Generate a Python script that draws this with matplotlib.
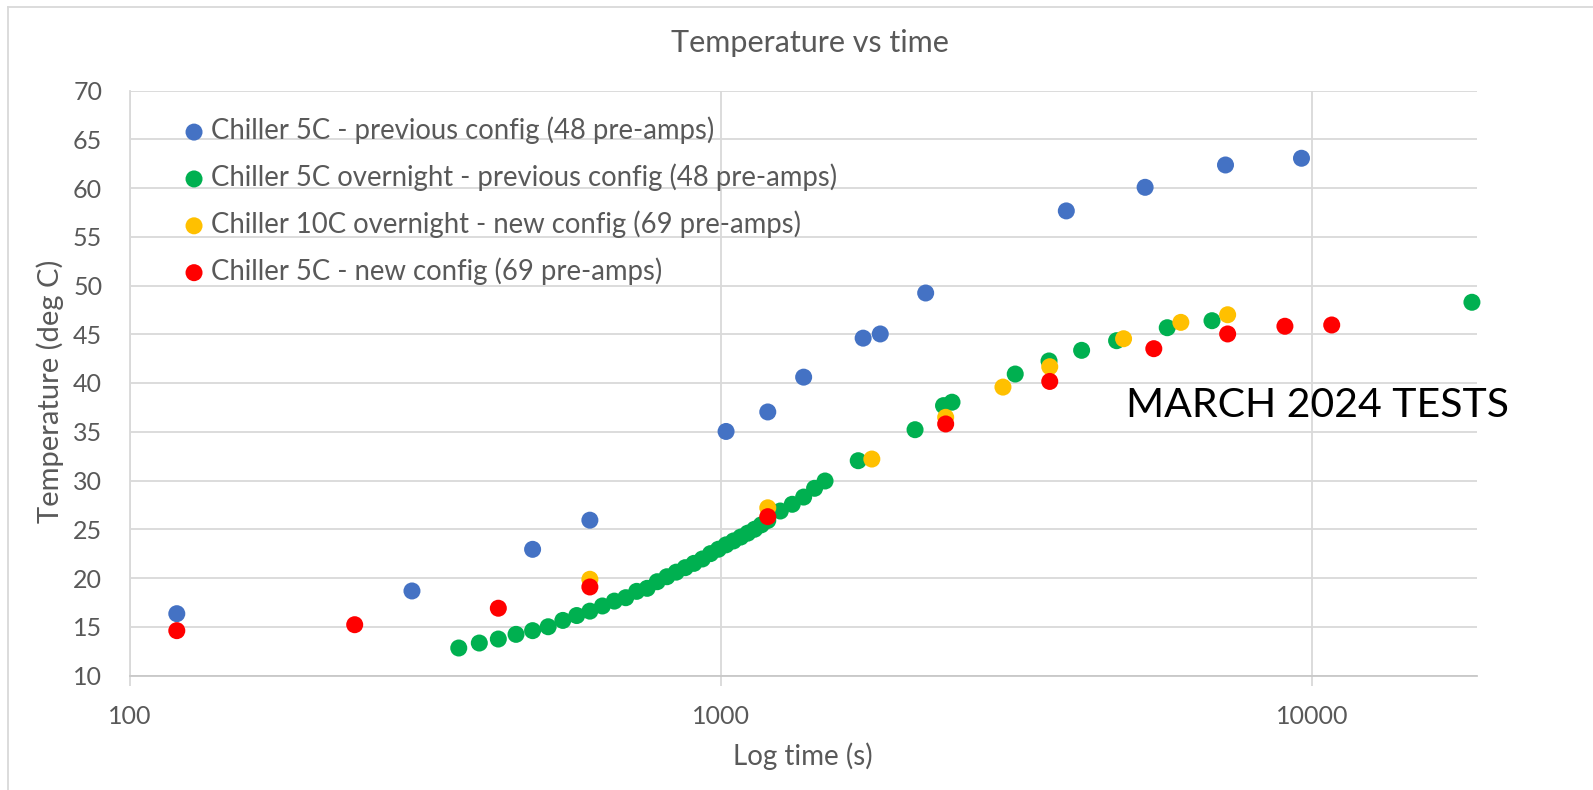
import numpy as np
import matplotlib
matplotlib.use("Agg")
import matplotlib.pyplot as plt
from matplotlib.ticker import FixedLocator, NullLocator, FuncFormatter
from matplotlib.lines import Line2D

plt.rcParams['font.family'] = ['Lato', 'DejaVu Sans']

# --- data (time in s, temperature in deg C) ---
blue_t = [120, 300, 480, 600, 1020, 1200, 1380, 1740, 1860, 2220, 3840, 5220, 7140, 9600]
blue_T = [16.34, 18.67, 22.94, 25.93, 35.03, 37.03, 40.6, 44.6, 45.03, 49.23, 57.65, 60.07, 62.36, 63.05]

green_t = [360, 390, 420, 450, 480, 510, 540, 570, 600, 630, 660, 690, 720, 750,
           780, 810, 840, 870, 900, 930, 960, 990, 1020, 1050, 1080, 1110, 1140,
           1170, 1200, 1260, 1320, 1380, 1440, 1500,
           1707, 2130, 2380, 2460, 3147, 3590, 4076, 4671, 5690, 6774, 18650]
green_T = [12.82, 13.33, 13.74, 14.22, 14.6, 15.0, 15.65, 16.15, 16.6, 17.13, 17.63, 17.98, 18.63, 18.94,
           19.62, 20.13, 20.6, 21.06, 21.5, 21.95, 22.5, 22.95, 23.4, 23.8, 24.2, 24.6, 25.0,
           25.45, 25.9, 26.87, 27.56, 28.3, 29.2, 29.95,
           32.03, 35.21, 37.68, 38.03, 40.92, 42.26, 43.35, 44.34, 45.67, 46.39, 48.28]

yellow_t = [600, 1200, 1800, 2400, 3000, 3600, 4800, 6000, 7200]
yellow_T = [19.87, 27.2, 32.2, 36.48, 39.58, 41.67, 44.54, 46.22, 47.0]

red_t = [120, 240, 420, 600, 1200, 2400, 3600, 5400, 7200, 9000, 10800]
red_T = [14.6, 15.21, 16.9, 19.08, 26.29, 35.8, 40.16, 43.52, 45.03, 45.82, 45.95]

labels = ["Chiller 5C - previous config (48 pre-amps)",
          "Chiller 5C overnight - previous config (48 pre-amps)",
          "Chiller 10C overnight - new config (69 pre-amps)",
          "Chiller 5C - new config (69 pre-amps)"]
colors = ["#4472C4", "#00B050", "#FFC000", "#FF0000"]

W, H = 1593, 790
fig = plt.figure(figsize=(W / 100, H / 100), dpi=100)
ax = fig.add_axes([130 / W, 1 - 675.5 / H, (1476.7 - 130) / W, (675.5 - 90.5) / H])

grey = "#595959"
grid_c = "#D9D9D9"

series = [(blue_t, blue_T), (green_t, green_T), (yellow_t, yellow_T), (red_t, red_T)]
for (t, T), c, lab in zip(series, colors, labels):
    ax.scatter(t, T, s=150, color=c, edgecolors='none', label=lab, zorder=3, clip_on=False)

ax.set_xscale('log')
ax.set_xlim(100, 19000)
ax.set_ylim(10, 70)
ax.xaxis.set_major_locator(FixedLocator([100, 1000, 10000]))
ax.xaxis.set_minor_locator(NullLocator())
ax.xaxis.set_major_formatter(FuncFormatter(lambda v, p: "%d" % v))
ax.set_yticks(np.arange(10, 71, 5))

ax.grid(True, color=grid_c, linewidth=1.3, zorder=0)
ax.set_axisbelow(True)
for s in ['top', 'right']:
    ax.spines[s].set_visible(False)
ax.spines['left'].set_color(grid_c)
ax.spines['bottom'].set_color("#C8C8C8")
ax.spines['left'].set_linewidth(1.3)
ax.spines['bottom'].set_linewidth(1.3)

ax.tick_params(axis='x', length=7, width=1.3, color=grid_c, labelsize=18, labelcolor=grey, pad=14)
ax.tick_params(axis='y', length=0, labelsize=18, labelcolor=grey, pad=20)

fig.text(810 / W, 1 - 51.7 / H, "Temperature vs time", ha='center', va='baseline',
         fontsize=22, color=grey)
fig.text(803 / W, 1 - 765 / H, "Log time (s)", ha='center', va='baseline',
         fontsize=20, color=grey)
fig.text(50 / W, 1 - 391.5 / H, "Temperature (deg C)", ha='center', va='center',
         rotation=90, fontsize=21, color=grey)
fig.text(1126 / W, 1 - 417 / H, "MARCH 2024 TESTS", ha='left', va='baseline',
         fontsize=29.5, color='black')

leg = ax.legend(loc='upper left', bbox_to_anchor=(184.4 / W, 1 - 116.7 / H),
                bbox_transform=fig.transFigure, frameon=False, fontsize=19.8,
                borderpad=0, borderaxespad=0, handlelength=0.7, handletextpad=0.27,
                labelspacing=0.70, scatterpoints=1)
for txt in leg.get_texts():
    txt.set_color(grey)

# chart area border
fig.add_artist(Line2D([8 / W, 1], [1 - 7 / H, 1 - 7 / H], color=grid_c, lw=1.3))
fig.add_artist(Line2D([8 / W, 8 / W], [0, 1 - 7 / H], color=grid_c, lw=1.3))

fig.savefig("out.png", dpi=100)
